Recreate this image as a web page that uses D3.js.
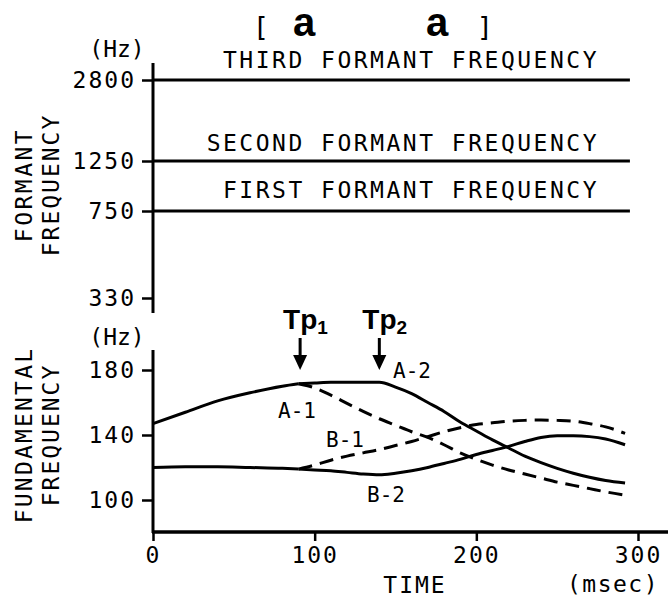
<!DOCTYPE html>
<html lang="en">
<head>
<meta charset="UTF-8">
<script src="https://d3js.org/d3.v7.min.js"></script>
<title>[a a] formant and F0 contours</title>
<style>
    body { margin: 0; background: #fff; }
    svg { display: block; }
    text { font-family: "DejaVu Sans Mono", "Liberation Mono", monospace; fill: #000; }
    .bold { font-family: "Liberation Sans", Arial, sans-serif; font-weight: bold; }
</style>
</head>
<body>
<div id="container"></div>
<script>
    /*----------------------- data -----------------------*/
    // formant frequencies (Hz), drawn as flat lines
    const formantTicks = [330, 750, 1250, 2800]
    const formantLabels = ["FIRST FORMANT FREQUENCY", "SECOND FORMANT FREQUENCY", "THIRD FORMANT FREQUENCY"]
    const formantValues = [750, 1250, 2800]
    const formantEnd = 295 // msec

    // fundamental frequency contours (Hz)
    const f0Ticks = [100, 140, 180]
    const timeTicks = [0, 100, 200, 300]
    const tCommon = [0, 20, 40, 60, 80, 90]
    const aCommon = [147, 154, 161, 166, 170, 171.5]
    const bCommon = [120, 120.5, 120.5, 120, 119.5, 119]
    const tSplit = [90, 100, 110, 120, 130, 140, 150, 160, 170, 180, 190, 200, 210, 220, 230, 240, 250, 260, 270, 280, 292]
    const a1 = [171.5, 169, 164.5, 159.5, 154.5, 150, 146, 142, 138.5, 134, 129, 125, 121.5, 118.5, 116, 113.5, 111, 109, 107, 105, 103]
    const a2 = [171.5, 172, 172.5, 172.5, 172.5, 172.5, 169.5, 165.5, 160, 154.5, 148, 142.5, 137, 132, 127, 123, 119.5, 116.5, 114, 112, 110.5]
    const b1 = [119, 121.5, 124.5, 127, 129, 131, 133.5, 136, 139, 142, 144.5, 146.5, 147.5, 148.5, 149, 149.2, 149, 148.5, 147, 145, 141]
    const b2 = [119, 118.5, 118, 117, 116, 115.5, 116.5, 118, 120, 122.5, 125, 128, 130.5, 133, 136, 138.5, 139.5, 139.5, 139, 137.5, 134]
    const tpTimes = [91, 140]
    const tpNames = ["1", "2"]

    /*----------------------- scales -----------------------*/
    const W = 668, H = 599
    const x = d3.scaleLinear().domain([0, 300]).range([153, 638])
    const yF = d3.scaleLinear().domain(formantTicks).range([298, 211, 161, 80])
    const y0 = d3.scaleLinear().domain([100, 180]).range([500, 370])

    const svg = d3.select("#container").append("svg")
        .attr("width", W).attr("height", H)

    // title [ a   a ]
    svg.append("text").attr("x", 261).attr("y", 36).attr("text-anchor", "middle")
        .style("font-size", "27px").text("[")
    svg.append("text").attr("x", 485).attr("y", 36).attr("text-anchor", "middle")
        .style("font-size", "27px").text("]")
    svg.selectAll(".vowel").data([304, 437]).enter().append("text")
        .attr("class", "bold").attr("x", d => d).attr("y", 36)
        .attr("text-anchor", "middle").style("font-size", "40px").text("a")

    const tickText = g => g.selectAll("text").style("font-size", "23px")
        .style("letter-spacing", "2px").style("font-family", "DejaVu Sans Mono, monospace")

    /*-------------------- upper panel --------------------*/
    const upper = svg.append("g")
    upper.append("g")
        .attr("transform", `translate(${x(0)},0)`)
        .call(d3.axisLeft(yF).tickValues(formantTicks).tickFormat(d3.format("d"))
            .tickSize(11).tickSizeOuter(0).tickPadding(6))
        .call(g => g.select(".domain").remove())
        .call(g => g.selectAll("line").attr("stroke-width", 2.5))
        .call(tickText)
    upper.append("line").attr("x1", x(0)).attr("x2", x(0)).attr("y1", 63).attr("y2", 313)
        .attr("stroke", "#000").attr("stroke-width", 3)

    upper.selectAll(".formant").data(formantValues).enter().append("line")
        .attr("x1", x(0)).attr("x2", x(formantEnd))
        .attr("y1", d => yF(d)).attr("y2", d => yF(d))
        .attr("stroke", "#000").attr("stroke-width", 3)

    const labelY = [yF(750) - 13, yF(1250) - 10, yF(2800) - 12]
    upper.selectAll(".flabel").data(formantLabels).enter().append("text")
        .attr("x", 599).attr("y", (d, i) => labelY[i]).attr("text-anchor", "end")
        .style("font-size", "23px").style("letter-spacing", "2.5px")
        .text(d => d)

    upper.append("text").attr("x", 117).attr("y", 57).attr("text-anchor", "middle")
        .style("font-size", "23px").text("(Hz)")
    upper.append("text").attr("transform", "translate(32,185) rotate(-90)")
        .attr("text-anchor", "middle").style("font-size", "23px").style("letter-spacing", "2.5px").text("FORMANT")
    upper.append("text").attr("transform", "translate(59,185) rotate(-90)")
        .attr("text-anchor", "middle").style("font-size", "23px").style("letter-spacing", "2px").text("FREQUENCY")

    /*-------------------- lower panel --------------------*/
    const lower = svg.append("g")
    lower.append("g")
        .attr("transform", `translate(${x(0)},0)`)
        .call(d3.axisLeft(y0).tickValues(f0Ticks).tickSize(11).tickSizeOuter(0).tickPadding(6))
        .call(g => g.select(".domain").remove())
        .call(g => g.selectAll("line").attr("stroke-width", 2.5))
        .call(tickText)
    lower.append("g")
        .attr("transform", "translate(0,532)")
        .call(d3.axisBottom(x).tickValues(timeTicks).tickSize(9).tickSizeOuter(0).tickPadding(6))
        .call(g => g.select(".domain").remove())
        .call(g => g.selectAll("line").attr("stroke-width", 2.5))
        .call(tickText)
    lower.append("line").attr("x1", x(0)).attr("x2", x(0)).attr("y1", 350).attr("y2", 533)
        .attr("stroke", "#000").attr("stroke-width", 3)
    lower.append("line").attr("x1", x(0) - 1).attr("x2", W).attr("y1", 532).attr("y2", 532)
        .attr("stroke", "#000").attr("stroke-width", 3.5)

    const line = d3.line().x(d => x(d[0])).y(d => y0(d[1])).curve(d3.curveMonotoneX)
    const pairs = (ts, vs) => ts.map((t, i) => [t, vs[i]])
    const curves = [
        { pts: pairs(tCommon, aCommon), dash: null },
        { pts: pairs(tCommon, bCommon), dash: null },
        { pts: pairs(tSplit, a2), dash: null },
        { pts: pairs(tSplit, b2), dash: null },
        { pts: pairs(tSplit, a1), dash: "14,8" },
        { pts: pairs(tSplit, b1), dash: "14,8" }
    ]
    lower.selectAll(".curve").data(curves).enter().append("path")
        .attr("d", d => line(d.pts))
        .attr("fill", "none").attr("stroke", "#000").attr("stroke-width", 3)
        .attr("stroke-dasharray", d => d.dash)

    const curveLabels = [
        { t: "A-2", x: 412, y: 378 }, { t: "A-1", x: 297, y: 418 },
        { t: "B-1", x: 345, y: 447 }, { t: "B-2", x: 386, y: 502 }
    ]
    lower.selectAll(".clabel").data(curveLabels).enter().append("text")
        .attr("x", d => d.x).attr("y", d => d.y).attr("text-anchor", "middle")
        .style("font-size", "21px").text(d => d.t)

    // Tp arrows
    const tp = lower.selectAll(".tp").data(tpTimes).enter().append("g")
        .attr("transform", d => `translate(${x(d)},0)`)
    tp.append("line").attr("x1", 0).attr("x2", 0).attr("y1", 338).attr("y2", 358)
        .attr("stroke", "#000").attr("stroke-width", 3)
    tp.append("path").attr("d", "M-7,355 L7,355 L0,370 Z").attr("fill", "#000")
    const tpText = tp.append("text").attr("class", "bold").attr("x", -17).attr("y", 329)
        .style("font-size", "28px")
    tpText.append("tspan").text("Tp")
    tpText.append("tspan").attr("dy", 5).style("font-size", "19px").text((d, i) => tpNames[i])

    lower.append("text").attr("x", 117).attr("y", 345).attr("text-anchor", "middle")
        .style("font-size", "23px").text("(Hz)")
    lower.append("text").attr("transform", "translate(32,435) rotate(-90)")
        .attr("text-anchor", "middle").style("font-size", "23px").style("letter-spacing", "2.2px").text("FUNDAMENTAL")
    lower.append("text").attr("transform", "translate(59,435) rotate(-90)")
        .attr("text-anchor", "middle").style("font-size", "23px").style("letter-spacing", "2px").text("FREQUENCY")
    lower.append("text").attr("x", 415).attr("y", 593).attr("text-anchor", "middle")
        .style("font-size", "23px").style("letter-spacing", "2px").text("TIME")
    lower.append("text").attr("x", 613).attr("y", 592).attr("text-anchor", "middle")
        .style("font-size", "23px").style("letter-spacing", "1.5px").text("(msec)")
</script>
</body>
</html>
